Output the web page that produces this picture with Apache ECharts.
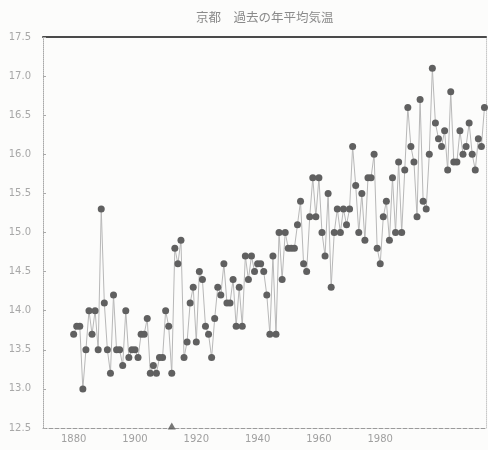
<!DOCTYPE html>
<html>
<head>
<meta charset="utf-8">
<script src="https://cdn.jsdelivr.net/npm/echarts@6/dist/echarts.min.js"></script>
<style>
html,body{margin:0;padding:0;background:#fcfcfb;}
#c{width:488px;height:450px;}
</style>
</head>
<body>
<div id="c"></div>
<script>
// Title
const titleText = '京都　過去の年平均気温';
// First year of the record
const firstYear = 1880;
// Annual mean temperature (°C), one value per year from 1880
const temps1880s = [13.7, 13.8, 13.8, 13.0, 13.5, 14.0, 13.7, 14.0, 13.5, 15.3];
const temps1890s = [14.1, 13.5, 13.2, 14.2, 13.5, 13.5, 13.3, 14.0, 13.4, 13.5];
const temps1900s = [13.5, 13.4, 13.7, 13.7, 13.9, 13.2, 13.3, 13.2, 13.4, 13.4];
const temps1910s = [14.0, 13.8, 13.2, 14.8, 14.6, 14.9, 13.4, 13.6, 14.1, 14.3];
const temps1920s = [13.6, 14.5, 14.4, 13.8, 13.7, 13.4, 13.9, 14.3, 14.2, 14.6];
const temps1930s = [14.1, 14.1, 14.4, 13.8, 14.3, 13.8, 14.7, 14.4, 14.7, 14.5];
const temps1940s = [14.6, 14.6, 14.5, 14.2, 13.7, 14.7, 13.7, 15.0, 14.4, 15.0];
const temps1950s = [14.8, 14.8, 14.8, 15.1, 15.4, 14.6, 14.5, 15.2, 15.7, 15.2];
const temps1960s = [15.7, 15.0, 14.7, 15.5, 14.3, 15.0, 15.3, 15.0, 15.3, 15.1];
const temps1970s = [15.3, 16.1, 15.6, 15.0, 15.5, 14.9, 15.7, 15.7, 16.0, 14.8];
const temps1980s = [14.6, 15.2, 15.4, 14.9, 15.7, 15.0, 15.9, 15.0, 15.8, 16.6];
const temps1990s = [16.1, 15.9, 15.2, 16.7, 15.4, 15.3, 16.0, 17.1, 16.4, 16.2];
const temps2000s = [16.1, 16.3, 15.8, 16.8, 15.9, 15.9, 16.3, 16.0, 16.1, 16.4];
const temps2010s = [16.0, 15.8, 16.2, 16.1, 16.6];
// X tick labels shown on the axis
const xTickLabels = [1880, 1900, 1920, 1940, 1960, 1980];
// Small triangle mark sitting on the bottom axis
const axisMarkYears = [1912];

const temps = [].concat(temps1880s, temps1890s, temps1900s, temps1910s, temps1920s,
  temps1930s, temps1940s, temps1950s, temps1960s, temps1970s, temps1980s,
  temps1990s, temps2000s, temps2010s);
const lineData = temps.map((v, i) => [firstYear + i, v]);
const markData = axisMarkYears.map(y => [y, 12.5]);

const chart = echarts.init(document.getElementById('c'));
chart.setOption({
  backgroundColor: '#fcfcfb',
  animation: false,
  title: {
    text: titleText,
    left: 191,
    top: 6,
    textStyle: {fontFamily: 'Noto Sans CJK JP', fontSize: 12.5, fontWeight: 'normal', color: '#8a8a8a'}
  },
  grid: {left: 43, right: 2, top: 37, bottom: 22, containLabel: false},
  xAxis: [{
    type: 'value', min: 1870, max: 2014.5, interval: 10, position: 'bottom',
    splitLine: {show: false},
    axisLine: {show: true, lineStyle: {color: '#9a9a9a', type: 'dashed', width: 1}},
    axisTick: {show: false},
    axisLabel: {
      showMaxLabel: false, showMinLabel: false,
      color: '#a0a0a0', fontSize: 10, fontFamily: 'DejaVu Sans', margin: 6,
      formatter: v => xTickLabels.indexOf(v) >= 0 ? String(v) : ''
    }
  }, {
    type: 'value', min: 1870, max: 2014.5, position: 'top',
    splitLine: {show: false}, axisTick: {show: false}, axisLabel: {show: false},
    axisLine: {show: true, lineStyle: {color: '#4a4a4a', width: 2}}
  }],
  yAxis: [{
    type: 'value', min: 12.5, max: 17.5, interval: 0.5,
    splitLine: {show: false},
    axisLine: {show: true, lineStyle: {color: '#a8a8a8', type: 'dotted', width: 1}},
    axisTick: {show: true, inside: true, length: 3, lineStyle: {color: '#aaa'}},
    axisLabel: {color: '#a8a8a8', fontSize: 10, fontFamily: 'DejaVu Sans', margin: 12,
      formatter: v => v.toFixed(1)}
  }, {
    type: 'value', min: 12.5, max: 17.5, interval: 0.5, position: 'right',
    splitLine: {show: false}, axisLabel: {show: false}, axisTick: {show: false},
    axisLine: {show: true, lineStyle: {color: '#c8c8c8', type: 'dotted', width: 1}}
  }],
  series: [{
    type: 'line',
    data: lineData,
    symbol: 'circle',
    symbolSize: 7,
    lineStyle: {color: '#b8b8b8', width: 1},
    itemStyle: {color: '#606060'},
    clip: false
  }, {
    type: 'scatter',
    data: markData,
    symbol: 'triangle',
    symbolSize: [8, 7],
    symbolOffset: [0, -2],
    itemStyle: {color: '#555'},
    clip: false
  }]
});
</script>
</body>
</html>
